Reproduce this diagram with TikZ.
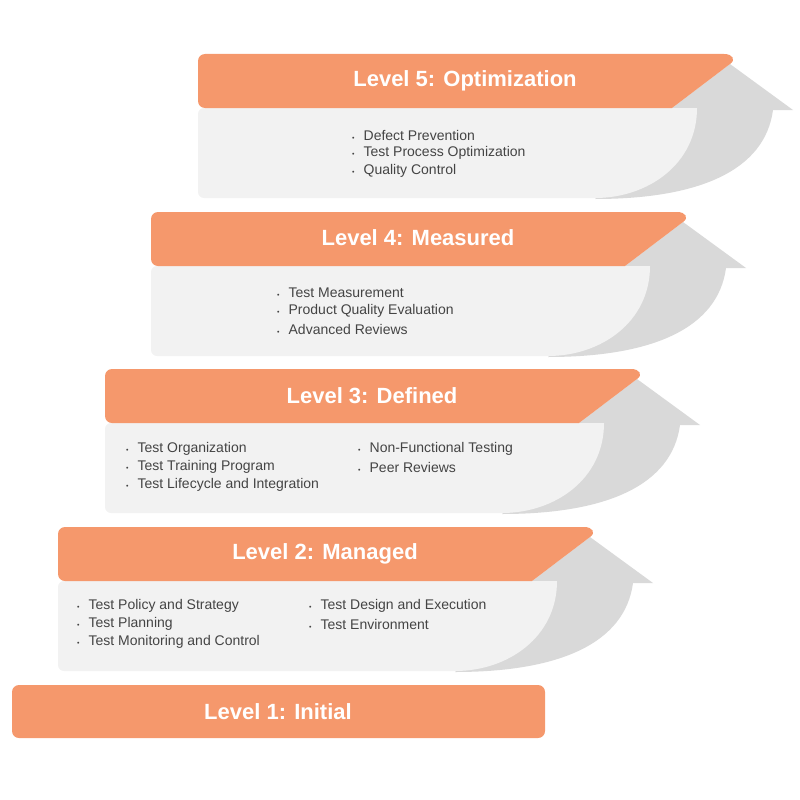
\documentclass[tikz,border=0pt]{standalone}
\usepackage{fontspec}
\setmainfont{Liberation Sans}
\definecolor{headorange}{HTML}{F5986C}
\definecolor{panelgray}{HTML}{F2F2F2}
\definecolor{arrowgray}{HTML}{D9D9D9}
\definecolor{textgray}{HTML}{444444}
\newcommand{\bl}{{\scriptsize\textbullet}\hspace{9pt}}
\tikzset{
  headtext/.style={text=white, font=\fontsize{22}{26}\selectfont\bfseries},
  itemtext/.style={text=textgray, font=\fontsize{14}{17}\selectfont, anchor=west, inner sep=0pt},
}
\begin{document}
\begin{tikzpicture}[x=1pt, y=-1pt]
  \useasboundingbox (0,0) rectangle (800,800);

  % one step: gray arrow, light panel, orange header
  \foreach \sx/\sy in {198/54, 151/212, 105/369, 58/527} {
    \begin{scope}[shift={(\sx,\sy)}]
      \fill [arrowgray] (397,145) .. controls (502,145) and (567,116) .. (575,56)
        -- (595,56) -- (532,10) -- (474,54) -- (499,56) -- cycle;
      \fill [panelgray] (499,54) .. controls (499,110) and (450,144) .. (397,144)
        [rounded corners=6] -- (0,144) -- (0,54) [sharp corners] -- cycle;
      \fill [headorange] (474,54) [rounded corners=7] -- (0,54) -- (0,0) [sharp corners]
        -- (526,0) .. controls (535,0) and (538,6) .. (532,10) -- cycle;
    \end{scope}
  }

  % Level 5
  \node [headtext] (l5) at (465,81) {Level 5: Optimization};
  \node [itemtext] (l5a) at (352,135) {\bl Defect Prevention};
  \node [itemtext] (l5b) at (352,153) {\bl Test Process Optimization};
  \node [itemtext] (l5c) at (352,171) {\bl Quality Control};

  % Level 4
  \node [headtext] (l4) at (418,238) {Level 4: Measured};
  \node [itemtext] (l4a) at (277,293) {\bl Test Measurement};
  \node [itemtext] (l4b) at (277,311) {\bl Product Quality Evaluation};
  \node [itemtext] (l4c) at (277,329) {\bl Advanced Reviews};

  % Level 3
  \node [headtext] (l3) at (372,396) {Level 3: Defined};
  \node [itemtext] (l3a) at (126,449) {\bl Test Organization};
  \node [itemtext] (l3b) at (126,467) {\bl Test Training Program};
  \node [itemtext] (l3c) at (126,485) {\bl Test Lifecycle and Integration};
  \node [itemtext] (l3d) at (358,449) {\bl Non-Functional Testing};
  \node [itemtext] (l3e) at (358,467) {\bl Peer Reviews};

  % Level 2
  \node [headtext] (l2) at (325,554) {Level 2: Managed};
  \node [itemtext] (l2a) at (77,606) {\bl Test Policy and Strategy};
  \node [itemtext] (l2b) at (77,624) {\bl Test Planning};
  \node [itemtext] (l2c) at (77,642) {\bl Test Monitoring and Control};
  \node [itemtext] (l2d) at (309,606) {\bl Test Design and Execution};
  \node [itemtext] (l2e) at (309,624) {\bl Test Environment};

  % Level 1
  \fill [headorange, rounded corners=7] (12,685) rectangle (545,738);
  \node [headtext] (l1) at (278,712) {Level 1: Initial};
\end{tikzpicture}
\end{document}
